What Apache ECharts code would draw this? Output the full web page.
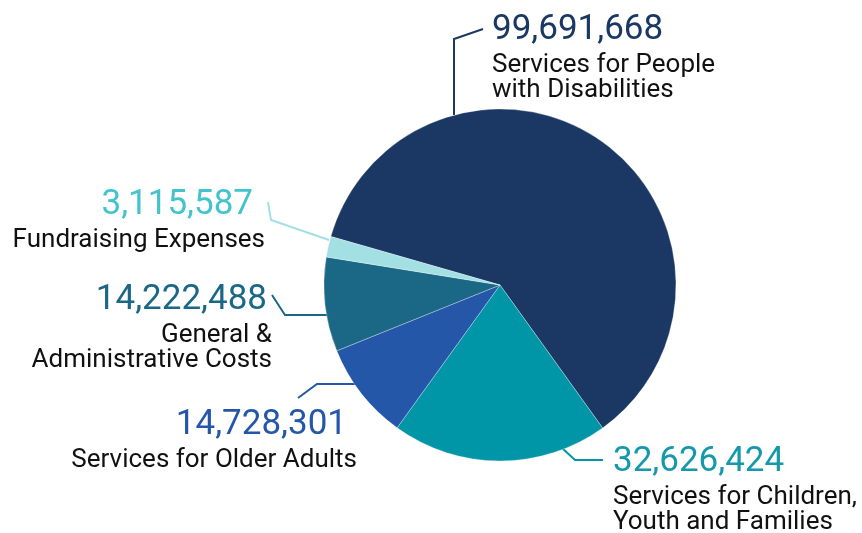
<!DOCTYPE html>
<html>
<head>
<meta charset="utf-8">
<script src="https://cdn.jsdelivr.net/npm/echarts@6/dist/echarts.min.js"></script>
<style>html,body{margin:0;padding:0;background:#fff;}#c{width:862px;height:533px;}</style>
</head>
<body>
<div id="c"></div>
<script>
var categories = ['Services for People\nwith Disabilities', 'Services for Children,\nYouth and Families', 'Services for Older Adults', 'General &\nAdministrative Costs', 'Fundraising Expenses'];
var values = [99691668, 32626424, 14728301, 14222488, 3115587];
var sliceColors = ['#1a3863', '#0096a8', '#2457a8', '#1b6786', '#a2e0e4'];
var numberColors = ['#1a3863', '#1499ab', '#2457a8', '#1b6786', '#42c3cd'];

// label placement (layout only)
var layout = [
  {x: 492, y: 8, align: 'left', pad: 0, line: [[454,115],[454,39],[483,29]]},
  {x: 613, y: 440, align: 'left', pad: 0, line: [[562,448],[575,460],[603,460]]},
  {x: 357, y: 403, align: 'right', pad: 10, line: [[355,384],[317,384],[298,398]]},
  {x: 272, y: 278, align: 'right', pad: 5, line: [[327,315],[285,315],[272,295]]},
  {x: 265, y: 183, align: 'right', pad: 12, line: [[329,240],[271,220],[268,202]]}
];

function fmt(v){ return v.toLocaleString('en-US'); }

var data = categories.map(function(name, i){
  var L = layout[i];
  return {
    name: name,
    value: values[i],
    itemStyle: {color: sliceColors[i]},
    label: {
      formatter: '{v|' + fmt(values[i]) + '}\n{t|' + name + '}',
      rich: {
        v: {fontFamily: 'Roboto', fontSize: 35, lineHeight: 45, color: numberColors[i], align: L.align, padding: [0, L.pad, 0, 0]},
        t: {fontFamily: 'Roboto', fontSize: 26, lineHeight: 25, color: '#111111', align: L.align}
      }
    }
  };
});

var chart = echarts.init(document.getElementById('c'), null, {renderer: 'canvas'});
chart.setOption({
  animation: false,
  series: [{
    type: 'pie',
    center: [500, 285],
    radius: 176,
    startAngle: 164,
    clockwise: true,
    avoidLabelOverlap: false,
    itemStyle: {borderColor: 'rgba(255,255,255,0.5)', borderWidth: 0.6},
    label: {show: true, position: 'outside'},
    labelLine: {show: true, smooth: false, lineStyle: {width: 2}},
    labelLayout: function(p){
      var L = layout[p.dataIndex];
      return {x: L.x, y: L.y, align: L.align, verticalAlign: 'top', labelLinePoints: L.line};
    },
    emphasis: {disabled: true},
    data: data
  }]
});
</script>
</body>
</html>
